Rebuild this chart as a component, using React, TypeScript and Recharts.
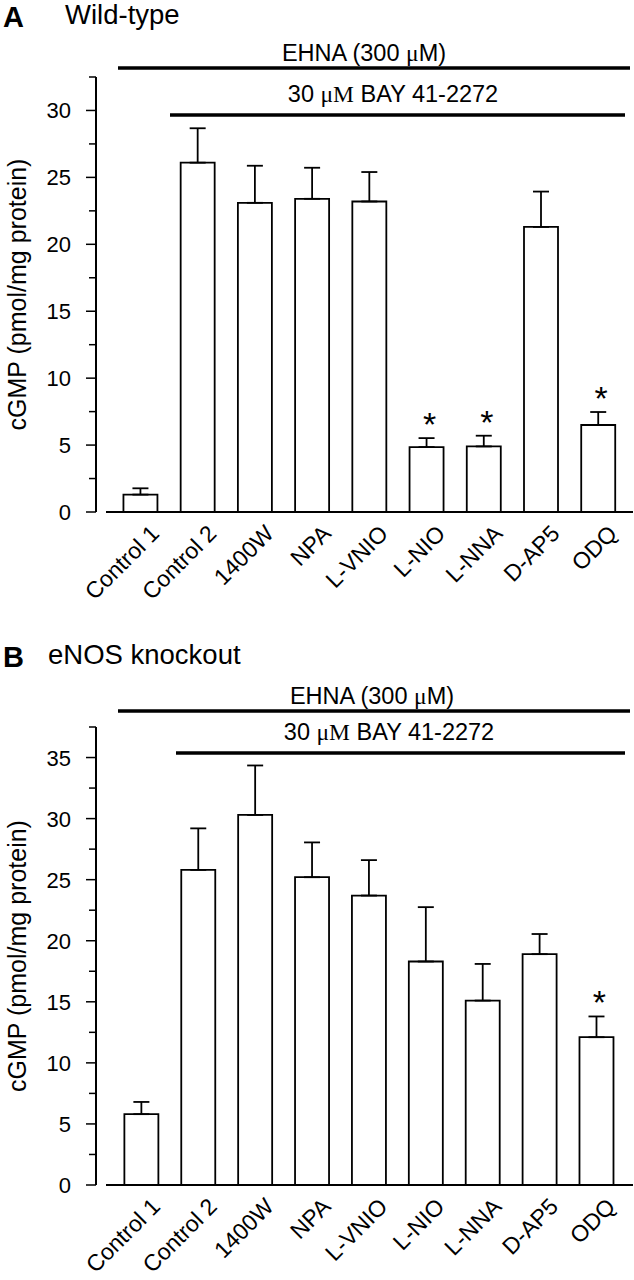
import React from "react";
import {
  ComposedChart,
  Bar,
  ErrorBar,
  LabelList,
  XAxis,
  YAxis,
  ReferenceLine,
} from "recharts";

const categories = [
  "Control 1",
  "Control 2",
  "1400W",
  "NPA",
  "L-VNIO",
  "L-NIO",
  "L-NNA",
  "D-AP5",
  "ODQ",
];

// panel A, wild-type
const wtMean = [1.3, 26.1, 23.1, 23.4, 23.2, 4.85, 4.9, 21.3, 6.5];
const wtSem = [0.47, 2.57, 2.77, 2.32, 2.2, 0.67, 0.8, 2.64, 0.97];
const wtSig = [false, false, false, false, false, true, true, false, true];
const wtTicks = [0, 2.5, 5, 7.5, 10, 12.5, 15, 17.5, 20, 22.5, 25, 27.5, 30, 32.5];

// panel B, eNOS knockout
const koMean = [5.8, 25.8, 30.3, 25.2, 23.7, 18.3, 15.1, 18.9, 12.1];
const koSem = [1.0, 3.4, 4.05, 2.85, 2.9, 4.45, 3.0, 1.65, 1.7];
const koSig = [false, false, false, false, false, false, false, false, true];
const koTicks = [0, 2.5, 5, 7.5, 10, 12.5, 15, 17.5, 20, 22.5, 25, 27.5, 30, 32.5, 35, 37.5];

const FONT = "'Liberation Sans', Arial, sans-serif";
const SERIF = "'Liberation Serif', 'Times New Roman', serif";

const YTick = (p: any) => {
  const { x, y, payload } = p;
  const major = payload.value % 5 === 0;
  return (
    <g>
      <line x1={x - (major ? 10 : 7)} x2={x} y1={y} y2={y} stroke="#000" strokeWidth={1.5} />
      {major && (
        <text x={x - 25} y={y} dy={8} textAnchor="end" fontSize={22} fontFamily={FONT} fill="#000">
          {payload.value}
        </text>
      )}
    </g>
  );
};

const XTick = (p: any) => {
  const { x, y, payload } = p;
  const ax = x + 20;
  const ay = y + 23;
  return (
    <text
      x={ax}
      y={ay}
      transform={`rotate(-45, ${ax}, ${ay})`}
      textAnchor="end"
      fontSize={23}
      fontFamily={FONT}
      fill="#000"
    >
      {payload.value}
    </text>
  );
};

const yLabel = (p: any) => {
  const vb = p.viewBox;
  const cy = vb.y + vb.height / 2;
  return (
    <text
      x={26}
      y={cy}
      transform={`rotate(-90, 26, ${cy})`}
      textAnchor="middle"
      fontSize={25}
      fontFamily={FONT}
      fill="#000"
    >
      cGMP (pmol/mg protein)
    </text>
  );
};

// x axis starts a bit right of the y axis, like the original
const xAxisLine = (p: any) => {
  const left = Math.min(p.x1, p.x2) + 10;
  const right = Math.max(p.x1, p.x2);
  return <line x1={left} x2={right} y1={p.y1} y2={p.y1} stroke="#000" strokeWidth={2} />;
};

function makeStar(mean: number[], sem: number[], sig: boolean[]) {
  return (p: any) => {
    const i = p.index;
    if (i == null || !sig[i]) return null;
    const vb = p.viewBox && p.viewBox.width != null ? p.viewBox : p;
    const pxPerUnit = vb.height / mean[i];
    const cx = vb.x + vb.width / 2;
    const top = vb.y - sem[i] * pxPerUnit;
    return (
      <text x={cx + 3} y={top - 2} textAnchor="middle" fontSize={34} fontFamily={FONT} fill="#000">
        *
      </text>
    );
  };
}

interface PanelProps {
  letter: string;
  title: string;
  titleX: number;
  mean: number[];
  sem: number[];
  sig: boolean[];
  ticks: number[];
  plotTop: number;
  xAxisHeight: number;
  padLeft: number;
  padRight: number;
  ehnaLineY: number;
  ehnaTextX: number;
  bayLineY: number;
  bayTextX: number;
  bayStart: number;
}

function Panel(props: PanelProps) {
  const data = categories.map((name, i) => ({
    name,
    mean: props.mean[i],
    err: [0, props.sem[i]],
  }));
  const yMax = props.ticks[props.ticks.length - 1];

  return (
    <div style={{ position: "relative", width: 634, height: 640 }}>
      <ComposedChart
        width={634}
        height={640}
        data={data}
        barCategoryGap="20%"
        margin={{ top: props.plotTop, right: 1, bottom: 0, left: 0 }}
      >
        <XAxis
          dataKey="name"
          axisLine={false}
          tickLine={false}
          tickSize={0}
          tickMargin={0}
          height={props.xAxisHeight}
          interval={0}
          padding={{ left: props.padLeft, right: props.padRight }}
          tick={<XTick />}
        />
        <YAxis
          width={96}
          domain={[0, yMax]}
          ticks={props.ticks}
          interval={0}
          allowDataOverflow
          tickLine={false}
          tickSize={0}
          tickMargin={0}
          axisLine={{ stroke: "#000", strokeWidth: 2 }}
          tick={<YTick />}
          label={{ content: yLabel }}
        />
        <ReferenceLine y={0} shape={xAxisLine} />
        <Bar dataKey="mean" fill="#fff" stroke="#000" strokeWidth={1.8} isAnimationActive={false}>
          <ErrorBar dataKey="err" direction="y" width={8} stroke="#000" strokeWidth={1.8} />
          <LabelList dataKey="mean" content={makeStar(props.mean, props.sem, props.sig)} />
        </Bar>
      </ComposedChart>

      <svg
        width={634}
        height={640}
        style={{ position: "absolute", left: 0, top: 0, pointerEvents: "none" }}
        fontFamily={FONT}
      >
        <text x={3} y={27} fontSize={29} fontWeight="bold" fill="#000">
          {props.letter}
        </text>
        <text x={props.titleX} y={24} fontSize={27.5} fill="#000">
          {props.title}
        </text>

        <text x={props.ehnaTextX} y={props.ehnaLineY - 7} textAnchor="middle" fontSize={23.5} fill="#000">
          EHNA (300 <tspan fontFamily={SERIF}>μ</tspan>M)
        </text>
        <line x1={118} x2={630} y1={props.ehnaLineY} y2={props.ehnaLineY} stroke="#000" strokeWidth={3.5} />

        <text x={props.bayTextX} y={props.bayLineY - 13} textAnchor="middle" fontSize={23.5} fill="#000">
          30 <tspan fontFamily={SERIF}>μM</tspan> BAY 41-2272
        </text>
        <line x1={props.bayStart} x2={625} y1={props.bayLineY} y2={props.bayLineY} stroke="#000" strokeWidth={3.5} />
      </svg>
    </div>
  );
}

export default function App() {
  return (
    <div style={{ position: "absolute", left: 0, top: 0, width: 634, height: 1280, background: "#fff" }}>
      <Panel
        letter="A"
        title="Wild-type"
        titleX={65}
        mean={wtMean}
        sem={wtSem}
        sig={wtSig}
        ticks={wtTicks}
        plotTop={77}
        xAxisHeight={128}
        padLeft={16}
        padRight={6}
        ehnaLineY={68}
        ehnaTextX={364}
        bayLineY={115}
        bayTextX={393}
        bayStart={170}
      />
      <Panel
        letter="B"
        title="eNOS knockout"
        titleX={48}
        mean={koMean}
        sem={koSem}
        sig={koSig}
        ticks={koTicks}
        plotTop={87}
        xAxisHeight={95}
        padLeft={17}
        padRight={8}
        ehnaLineY={71}
        ehnaTextX={372}
        bayLineY={113}
        bayTextX={389}
        bayStart={176}
      />
    </div>
  );
}
